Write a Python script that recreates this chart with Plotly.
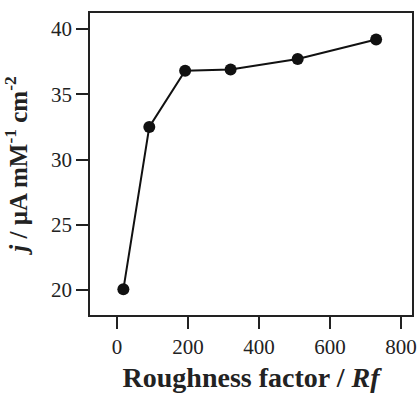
import plotly.graph_objects as go

rf = [18, 91, 192, 320, 509, 730]
j = [20.05, 32.5, 36.8, 36.9, 37.7, 39.2]
x_ticks = [0, 200, 400, 600, 800]
y_ticks = [20, 25, 30, 35, 40]

fig = go.Figure()
fig.add_trace(go.Scatter(
    x=rf, y=j, mode="lines+markers",
    line=dict(color="#111111", width=2),
    marker=dict(color="#111111", size=12),
    showlegend=False,
))

font_serif = "Liberation Serif, Times New Roman, serif"
axis_common = dict(
    showline=True, linecolor="#222222", linewidth=1.5, mirror=True,
    ticks="outside", ticklen=12, tickwidth=1.5, tickcolor="#222222",
    showgrid=False, zeroline=False, automargin=False,
    tickfont=dict(family=font_serif, size=21, color="#222222"),
)
fig.update_xaxes(
    range=[-76, 831], tickvals=x_ticks,
    title=dict(text="<b>Roughness factor / <i>Rf</i></b>",
               font=dict(family=font_serif, size=28, color="#222222"), standoff=14),
    **axis_common,
)
fig.update_yaxes(
    range=[18.08, 41.23], tickvals=y_ticks,
    title=dict(text="<b><i>j</i> / µA mM<sup>-1</sup> cm<sup>-2</sup></b>",
               font=dict(family=font_serif, size=25, color="#222222"), standoff=20),
    **axis_common,
)
fig.update_layout(
    width=419, height=393,
    margin=dict(l=90, r=7, t=13, b=78),
    plot_bgcolor="white", paper_bgcolor="white",
)
fig.write_html("out.html")
